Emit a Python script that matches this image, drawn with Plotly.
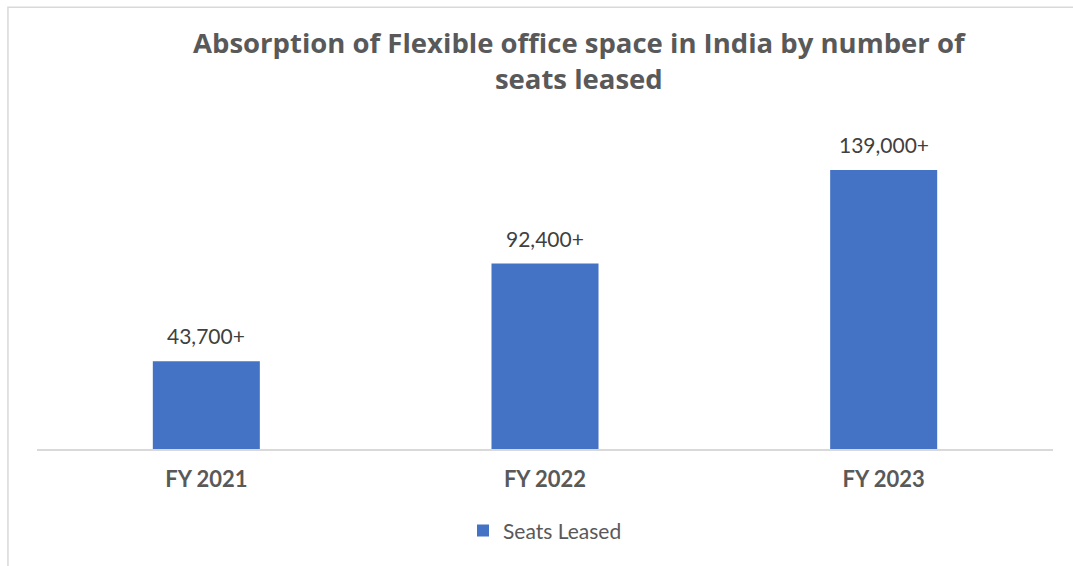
import plotly.graph_objects as go

categories = ["FY 2021", "FY 2022", "FY 2023"]
seats = [43700, 92400, 139000]
labels = ["43,700+", "92,400+", "139,000+"]
series_name = "Seats Leased"
title_text = "Absorption of Flexible office space in India by number of<br>seats leased"

FONT = "Lato, Open Sans, sans-serif"

fig = go.Figure()
fig.add_trace(go.Bar(
    x=categories, y=seats, name=series_name,
    marker=dict(color="#4472C4", line=dict(width=0)),
    showlegend=True,
))

annotations = [
    dict(x=c, y=v, xref="x", yref="y", text=t, showarrow=False,
         xanchor="center", yanchor="bottom", yshift=11,
         font=dict(family=FONT, size=21, color="#404040"))
    for c, v, t in zip(categories, seats, labels)
]
annotations.append(dict(
    x=0.534, y=1.182, xref="paper", yref="paper", text=title_text, showarrow=False,
    xanchor="center", yanchor="middle", align="center",
    font=dict(family="Open Sans, sans-serif", size=27.5, color="#595959", weight="bold"),
))

fig.update_layout(
    width=1073, height=566,
    paper_bgcolor="white", plot_bgcolor="white",
    margin=dict(l=37, r=20, t=120, b=117),
    bargap=0.684,
    xaxis=dict(
        showline=True, linecolor="#D9D9D9", linewidth=2,
        tickfont=dict(family=FONT, size=22, color="#595959", weight="bold"),
        ticks="", showgrid=False, ticklabelstandoff=10,
    ),
    yaxis=dict(range=[0, 163900], visible=False, showgrid=False),
    legend=dict(
        orientation="h", x=0.5, xanchor="center", y=-0.249, yanchor="middle",
        font=dict(family=FONT, size=21, color="#595959"),
        itemwidth=30,
    ),
    annotations=annotations,
    shapes=[dict(type="rect", xref="paper", yref="paper",
                 x0=-0.0286, x1=1.1, y0=-0.5, y1=1.343,
                 line=dict(color="#D9D9D9", width=1.5), fillcolor="rgba(0,0,0,0)", layer="below")],
)

fig.write_html("out.html", config={"displayModeBar": False},
               post_script="document.body.style.margin='0px';")
